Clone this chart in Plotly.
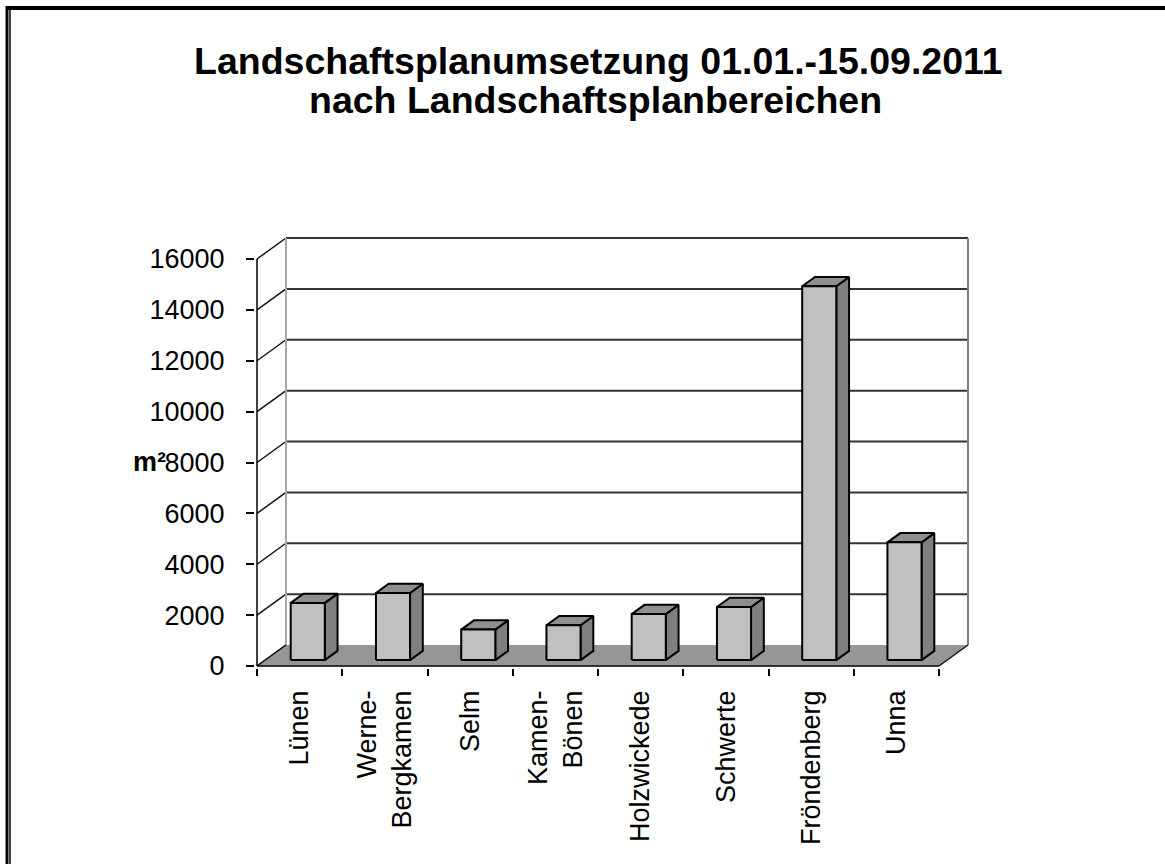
import plotly.graph_objects as go

# ---------------- data ----------------
categories = ["Lünen", "Werne-<br>Bergkamen", "Selm", "Kamen-<br>Bönen",
              "Holzwickede", "Schwerte", "Fröndenberg", "Unna"]
values = [2250, 2640, 1200, 1370, 1810, 2090, 14700, 4630]
y_ticks = [0, 2000, 4000, 6000, 8000, 10000, 12000, 14000, 16000]
y_tick_labels = [str(v) for v in y_ticks]
title_line1 = "Landschaftsplanumsetzung 01.01.-15.09.2011"
title_line2 = "nach Landschaftsplanbereichen"
y_title = "m²"

# ---------------- geometry / style ----------------
W, H = 1165, 864
L, R, B = 255, 190, 196
PX_PER_CAT = 85.25
PX_PER_UNIT = 407 / 16000
PAD_X, PAD_Y = 2, 2
plot_w = W - L - R
T_PX = 236
plot_h = H - T_PX - B
x_min = -PAD_X / PX_PER_CAT
x_max = x_min + plot_w / PX_PER_CAT
y_min = -PAD_Y / PX_PER_UNIT
y_max = y_min + plot_h / PX_PER_UNIT

DX = 29 / PX_PER_CAT          # depth offset in category units
DY = 21 / PX_PER_UNIT         # depth offset in value units
HALF_W = 0.2
D0, D1 = 0.28, 0.72
N = len(categories)
top_val = y_ticks[-1]

FONT = "Arial, 'Liberation Sans', sans-serif"
FRONT_C, SIDE_C, TOP_C, FLOOR_C = "#c0c0c0", "#7f7f7f", "#8f8f8f", "#969696"

fig = go.Figure()

def line_trace(xs, ys, color, width):
    fig.add_trace(go.Scatter(x=xs, y=ys, mode="lines",
                             line=dict(color=color, width=width),
                             hoverinfo="skip", showlegend=False))

def poly_trace(xs, ys, fill, lw=2):
    fig.add_trace(go.Scatter(x=xs + [xs[0]], y=ys + [ys[0]], mode="lines",
                             fill="toself", fillcolor=fill,
                             line=dict(color="black", width=lw),
                             hoverinfo="skip", showlegend=False))

# back wall gridlines
gx, gy = [], []
for v in y_ticks[1:]:
    gx += [DX, N + DX, None]
    gy += [v + DY, v + DY, None]
line_trace(gx, gy, "#333333", 2)

# side wall diagonals
sx, sy = [], []
for v in y_ticks:
    sx += [0, DX, None]
    sy += [v, v + DY, None]
line_trace(sx, sy, "#111111", 1.5)

# back wall edges
line_trace([DX, DX], [DY, top_val + DY], "#a8a8a8", 2)
line_trace([N + DX, N + DX], [DY, top_val + DY], "#808080", 2)

# floor
fig.add_trace(go.Scatter(x=[0, N, N + DX, DX, 0], y=[0, 0, DY, DY, 0],
                         mode="lines", fill="toself", fillcolor=FLOOR_C,
                         line=dict(color=FLOOR_C, width=0),
                         hoverinfo="skip", showlegend=False))
line_trace([0, DX], [0, DY], "#111111", 1.5)
line_trace([N, N + DX], [0, DY], "#111111", 1.5)

# bars
for i, v in enumerate(values):
    xl = i + 0.5 - HALF_W
    xr = i + 0.5 + HALF_W
    fx0, fx1 = xl + DX * D0, xr + DX * D0
    fy0 = DY * D0
    bx_off, by_off = DX * D1, DY * D1
    # side face
    poly_trace([fx1, xr + bx_off, xr + bx_off, fx1],
               [fy0, by_off, v + by_off, v + fy0], SIDE_C)
    # top face
    poly_trace([fx0, fx1, xr + bx_off, xl + bx_off],
               [v + fy0, v + fy0, v + by_off, v + by_off], TOP_C)
    # front face
    poly_trace([fx0, fx1, fx1, fx0], [fy0, fy0, v + fy0, v + fy0], FRONT_C)

# front axes
line_trace([0, 0], [0, top_val], "black", 1.5)
line_trace([0, N], [0, 0], "black", 1.5)

def px2paper_x(px):
    return (px - L) / plot_w

def px2paper_y(py):
    return (H - B - py) / plot_h

# outer frame lines
shapes = [
    dict(type="line", xref="paper", yref="paper",
         x0=px2paper_x(7), x1=px2paper_x(7), y0=px2paper_y(6), y1=px2paper_y(H + 5),
         line=dict(color="black", width=3)),
    dict(type="line", xref="paper", yref="paper",
         x0=px2paper_x(10), x1=px2paper_x(10), y0=px2paper_y(10), y1=px2paper_y(H + 5),
         line=dict(color="black", width=1.5)),
    dict(type="line", xref="paper", yref="paper",
         x0=px2paper_x(6), x1=px2paper_x(W + 5), y0=px2paper_y(8), y1=px2paper_y(8),
         line=dict(color="black", width=4)),
]

annotations = [
    dict(text="<b>" + title_line1 + "</b>", xref="paper", yref="paper",
         x=px2paper_x(598), y=px2paper_y(61), xanchor="center", yanchor="middle",
         showarrow=False, font=dict(family=FONT, size=37.5, color="black")),
    dict(text="<b>" + title_line2 + "</b>", xref="paper", yref="paper",
         x=px2paper_x(595), y=px2paper_y(100), xanchor="center", yanchor="middle",
         showarrow=False, font=dict(family=FONT, size=37.5, color="black")),
    dict(text="<b>" + y_title + "</b>", xref="paper", yref="paper",
         x=px2paper_x(149), y=px2paper_y(462), xanchor="center", yanchor="middle",
         showarrow=False, font=dict(family=FONT, size=27, color="black")),
]

fig.update_layout(
    width=W, height=H,
    margin=dict(l=L, r=R, t=T_PX, b=B, pad=0),
    paper_bgcolor="white", plot_bgcolor="white",
    showlegend=False,
    shapes=shapes, annotations=annotations,
    xaxis=dict(range=[x_min, x_max], tickmode="array",
               tickvals=[i + 0.5 for i in range(N)], ticktext=categories,
               tickangle=-90, ticks="", showgrid=False, zeroline=False,
               showline=False, ticklabelstandoff=16,
               tickfont=dict(family=FONT, size=27, color="black"),
               minor=dict(tickmode="array", tickvals=list(range(N + 1)),
                          ticks="outside", ticklen=7, tickwidth=1.5,
                          tickcolor="black", showgrid=False),
               fixedrange=True),
    yaxis=dict(range=[y_min, y_max], tickmode="array", tickvals=y_ticks,
               ticktext=y_tick_labels, ticks="outside", ticklen=8,
               tickwidth=1.5, tickcolor="black", showgrid=False,
               zeroline=False, showline=False, ticklabelstandoff=16,
               tickfont=dict(family=FONT, size=27, color="black"),
               fixedrange=True),
)

fig.write_html("out.html", config={"displayModeBar": False},
               post_script="document.body.style.margin='0';")
